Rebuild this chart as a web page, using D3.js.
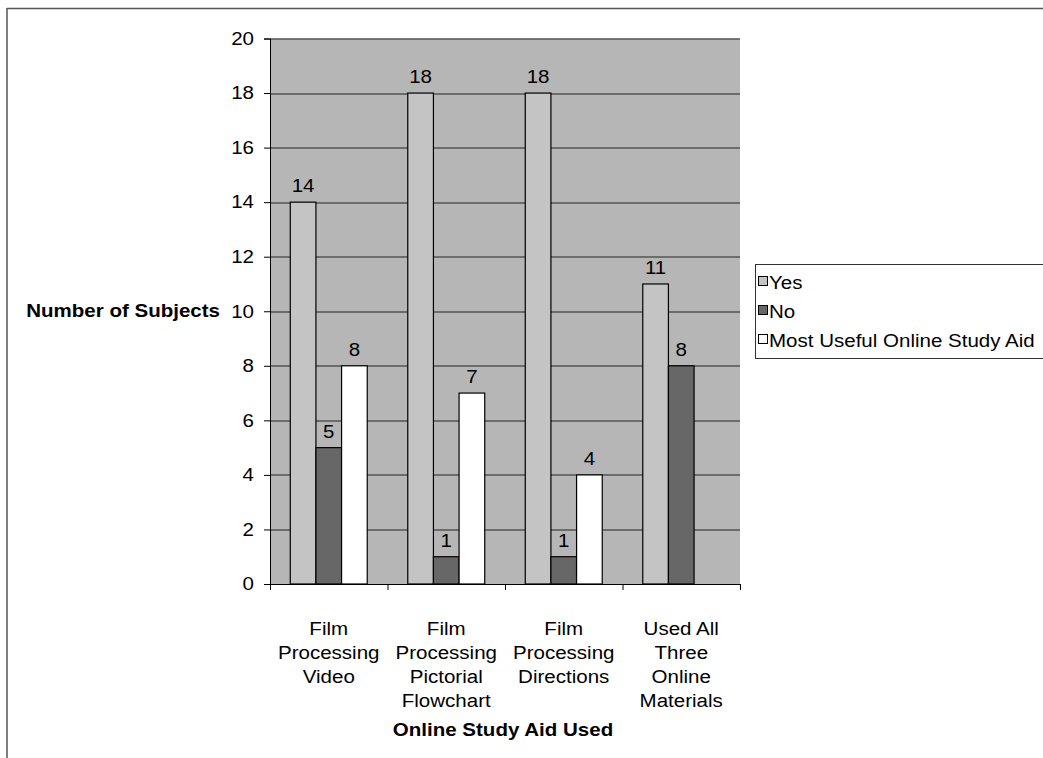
<!DOCTYPE html>
<html>
<head>
<meta charset="utf-8">
<script src="https://cdn.jsdelivr.net/npm/d3@7"></script>
<style>
  body { margin: 0; background: #fff; }
  text { font-family: "Liberation Sans", Arial, sans-serif; fill: #000; }
</style>
</head>
<body>
<div id="chart"></div>
<script>
var categories = [
  ["Film", "Processing", "Video"],
  ["Film", "Processing", "Pictorial", "Flowchart"],
  ["Film", "Processing", "Directions"],
  ["Used All", "Three", "Online", "Materials"]
];
var series_names = ["Yes", "No", "Most Useful Online Study Aid"];
var yes_values = [14, 18, 18, 11];
var no_values = [5, 1, 1, 8];
var useful_values = [8, 7, 4, null];
var y_ticks = [0, 2, 4, 6, 8, 10, 12, 14, 16, 18, 20];

var series_fill = ["#c4c4c4", "#676767", "#ffffff"];
var font_size = "18px";
var stretch_k = 1.14;

// the scanned text is a bit wider than normal Arial, so stretch it sideways
function stretch(sel) {
  sel.each(function() {
    var len = this.getComputedTextLength();
    d3.select(this).attr("textLength", len * stretch_k).attr("lengthAdjust", "spacingAndGlyphs");
  });
}

var svg = d3.select("#chart").append("svg")
            .attr("width", 1043)
            .attr("height", 758);

var margin = {top: 38.5, right: 303, bottom: 174, left: 270};
var width = 1043 - margin.left - margin.right;
var height = 758 - margin.top - margin.bottom;

// outer frame (top and left edges only visible)
svg.append("line").attr("x1", 7).attr("x2", 1043).attr("y1", 8.5).attr("y2", 8.5)
   .attr("stroke", "#555").attr("stroke-width", 1.5);
svg.append("line").attr("x1", 7).attr("x2", 7).attr("y1", 8).attr("y2", 758)
   .attr("stroke", "#555").attr("stroke-width", 1.5);

var g = svg.append("g").attr("transform", "translate(" + margin.left + "," + margin.top + ")");

var x_scale = d3.scaleBand().domain(d3.range(categories.length)).range([0, width])
                .paddingInner(0.345).paddingOuter(0.1725);
var x_inner = d3.scaleBand().domain(d3.range(series_names.length)).range([0, x_scale.bandwidth()]);
var y_scale = d3.scaleLinear().domain([0, 20]).range([height, 0]);

// plot background
g.append("rect").attr("width", width).attr("height", height).attr("fill", "#b6b6b6");

// grid lines
g.append("g").selectAll("line").data(y_ticks.slice(1)).enter().append("line")
 .attr("x1", 0).attr("x2", width)
 .attr("y1", d => Math.round(y_scale(d)) + 0.5).attr("y2", d => Math.round(y_scale(d)) + 0.5)
 .attr("stroke", "#222").attr("stroke-width", 1);

var bar_data = [];
categories.forEach(function(c, i) {
  [yes_values[i], no_values[i], useful_values[i]].forEach(function(v, s) {
    if (v != null) bar_data.push({cat: i, s: s, value: v});
  });
});

g.append("g").selectAll("rect").data(bar_data).enter().append("rect")
 .attr("x", d => x_scale(d.cat) + x_inner(d.s))
 .attr("y", d => y_scale(d.value))
 .attr("width", x_inner.bandwidth())
 .attr("height", d => height - y_scale(d.value))
 .attr("fill", d => series_fill[d.s])
 .attr("stroke", "#000").attr("stroke-width", 1.2);

g.append("g").selectAll("text").data(bar_data).enter().append("text")
 .attr("x", d => x_scale(d.cat) + x_inner(d.s) + x_inner.bandwidth() / 2)
 .attr("y", d => y_scale(d.value) - 10)
 .attr("text-anchor", "middle")
 .style("font-size", font_size)
 .text(d => d.value)
 .call(stretch);

// y axis
var axis_y = d3.axisLeft(y_scale).tickValues(y_ticks).tickSize(6).tickPadding(10);
g.append("g").attr("class", "y-axis").call(axis_y)
 .call(a => a.selectAll("text").style("font-size", font_size).style("font-family", "Liberation Sans, Arial, sans-serif").call(stretch))
 .call(a => a.select(".domain").attr("stroke", "#000"));

// x axis: ticks at category boundaries
var x_bounds = d3.range(categories.length + 1).map(i => i * x_scale.step());
g.append("line").attr("x1", 0).attr("x2", width).attr("y1", height + 0.5).attr("y2", height + 0.5)
 .attr("stroke", "#000");
g.append("g").selectAll("line").data(x_bounds).enter().append("line")
 .attr("x1", d => d + 0.5).attr("x2", d => d + 0.5)
 .attr("y1", height).attr("y2", height + 6)
 .attr("stroke", "#000");

var cat_labels = g.append("g").selectAll("text").data(categories).enter().append("text")
 .attr("x", (d, i) => x_scale(i) + x_scale.bandwidth() / 2)
 .attr("y", height + 51)
 .attr("text-anchor", "middle")
 .style("font-size", font_size);
cat_labels.selectAll("tspan").data(d => d).enter().append("tspan")
 .attr("x", function() { return this.parentNode.getAttribute("x"); })
 .attr("dy", (d, i) => i == 0 ? 0 : 24)
 .text(d => d)
 .call(stretch);

// axis titles
svg.append("text").attr("x", 220).attr("y", margin.top + y_scale(10) + 6)
   .attr("text-anchor", "end").style("font-size", font_size).style("font-weight", "bold")
   .text("Number of Subjects").call(stretch);
svg.append("text").attr("x", margin.left + width / 2 - 2).attr("y", 736)
   .attr("text-anchor", "middle").style("font-size", font_size).style("font-weight", "bold")
   .text("Online Study Aid Used").call(stretch);

// legend
var legend = svg.append("g").attr("transform", "translate(755,264)");
legend.append("rect").attr("x", 0.5).attr("y", 0.5).attr("width", 300).attr("height", 94)
      .attr("fill", "#fff").attr("stroke", "#333").attr("stroke-width", 1);
var items = legend.selectAll("g.item").data(series_names).enter().append("g")
      .attr("class", "item")
      .attr("transform", (d, i) => "translate(0," + (18 + i * 29) + ")");
items.append("rect").attr("x", 3.5).attr("y", -5.5).attr("width", 9).attr("height", 9)
     .attr("fill", (d, i) => series_fill[i]).attr("stroke", "#000");
items.append("text").attr("x", 14).attr("y", 6.5).style("font-size", font_size).text(d => d).call(stretch);
</script>
</body>
</html>
